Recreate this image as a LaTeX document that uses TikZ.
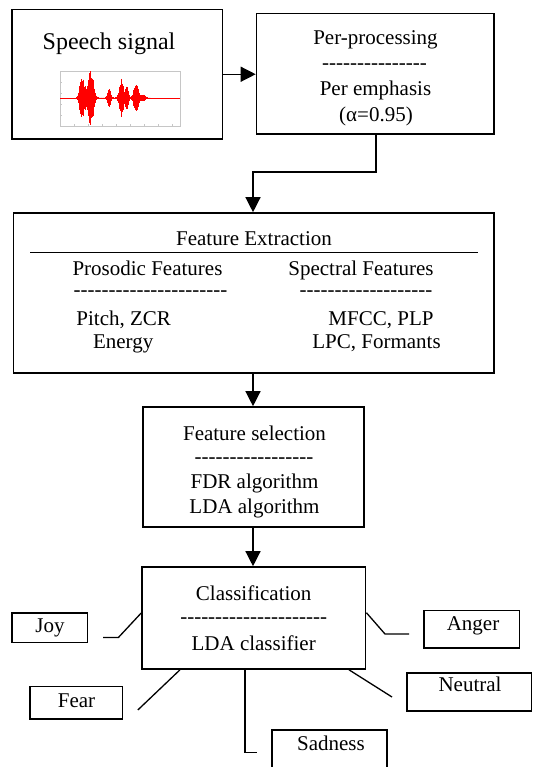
\documentclass[tikz,border=0pt]{standalone}
\usepackage{fontspec}
\newfontfamily\tnr{Liberation Serif}
\usetikzlibrary{arrows.meta}
\newcommand\hyrow[1]{\foreach \i in {1,...,#1}{\mbox{-}}}
\begin{document}
\begin{tikzpicture}[x=1pt,y=-1pt,
  box/.style={draw,line width=1.6pt,inner sep=0pt},
  txt/.style={anchor=base,inner sep=0pt,font=\tnr\fontsize{21}{25}\selectfont},
  arr/.style={line width=1.3pt,-{Triangle[length=15pt,width=15pt]}},
  con/.style={line width=1.3pt}]
\useasboundingbox (0,0) rectangle (533,767);
\clip (0,0) rectangle (533,767);

% boxes
\node[box,minimum width=210.5pt,minimum height=129.5pt] (speech) at (117.25,74.25) {};
\node[box,minimum width=237.5pt,minimum height=120.4pt] (per) at (375.25,73.8) {};
\node[box,minimum width=480.4pt,minimum height=160pt] (feat) at (253.8,293) {};
\node[box,minimum width=221.3pt,minimum height=120pt] (sel) at (253.35,467) {};
\node[box,minimum width=223.6pt,minimum height=102pt] (cls) at (253.8,618) {};
\node[box,minimum width=75.4pt,minimum height=29.9pt] (joy) at (49.7,627.65) {};
\node[box,minimum width=95.5pt,minimum height=37.5pt] (anger) at (471.75,629.25) {};
\node[box,minimum width=92.4pt,minimum height=32.5pt] (fear) at (76.2,702.75) {};
\node[box,minimum width=124.5pt,minimum height=38pt] (neutral) at (469.25,692) {};
\node[box,minimum width=115pt,minimum height=60pt] (sadness) at (329.2,760) {};

% speech signal
\node[txt,font=\tnr\fontsize{24}{28}\selectfont] (tspeech) at (109,50) {Speech signal};
\draw[gray!45,line width=0.4pt] (60,71) rectangle (180,126);
\foreach \t in {60,74,88,102,116,130,144,158,172}{\draw[gray!45,line width=0.3pt] (\t,126) -- (\t,124);}
\foreach \t in {71,82,93,104,115,126}{\draw[gray!45,line width=0.3pt] (60,\t) -- (62,\t);}
\draw[red,line width=0.5pt] (60,98) -- (180,98);
\pgfmathsetseed{7}
\foreach \x in {76,76.4,...,150}{
  \pgfmathsetmacro\amp{(24*exp(-min(((\x-82)/3)^2,9))+27*exp(-min(((\x-90.5)/3.5)^2,9))
    +9*exp(-min(((\x-109)/2)^2,9))+19*exp(-min(((\x-121)/2.5)^2,9))
    +13*exp(-min(((\x-126.5)/2)^2,9))+15*exp(-min(((\x-136)/3)^2,9))
    +3*exp(-min(((\x-143)/2.5)^2,9)))*(0.65+0.35*rnd)+0.4}
  \draw[red,line width=0.6pt] (\x,98-\amp) -- (\x,98+\amp);
}

% pre-processing
\node[txt] (tper1) at (375.5,45) {Per-processing};
\node[txt] (tper2) at (374.5,69.3) {\hyrow{15}};
\node[txt] (tper3) at (375.5,96) {Per emphasis};
\node[txt] (tper4) at (376,122) {(α=0.95)};

% feature extraction
\node[txt] (tfe) at (254,245) {Feature Extraction};
\draw[line width=1.6pt] (30,252.5) coordinate (l1) -- (478,252.5) coordinate (l2);
\node[txt] (tpro) at (147.5,275.5) {Prosodic Features};
\node[txt] (tprod) at (150.5,296.7) {\hyrow{22}};
\node[txt] (tpitch) at (123.7,325) {Pitch, ZCR};
\node[txt] (tenergy) at (123.2,348.6) {Energy};
\node[txt] (tspe) at (361,275.5) {Spectral Features};
\node[txt] (tsped) at (366,296.7) {\hyrow{19}};
\node[txt] (tmfcc) at (381,325) {MFCC, PLP};
\node[txt] (tlpc) at (376.5,348.6) {LPC, Formants};

% feature selection
\node[txt] (tsel1) at (254.5,440) {Feature selection};
\node[txt] (tsel2) at (254,463.7) {\hyrow{17}};
\node[txt] (tsel3) at (254.5,488) {FDR algorithm};
\node[txt] (tsel4) at (254.5,513) {LDA algorithm};

% classification
\node[txt] (tcls1) at (253.7,600) {Classification};
\node[txt] (tcls2) at (253.7,623) {\hyrow{21}};
\node[txt] (tcls3) at (253.7,650) {LDA classifier};

% emotions
\node[txt] (tjoy) at (50,632) {Joy};
\node[txt] (tanger) at (473,630.5) {Anger};
\node[txt] (tfear) at (76.5,707) {Fear};
\node[txt] (tneutral) at (470,691.5) {Neutral};
\node[txt] (tsad) at (331,750) {Sadness};

% arrows
\draw[arr] (speech.east) -- (speech.east -| per.west);
\draw[arr] (per.south -| 376,0) -- (376,172) -| (feat.north -| 253,0);
\draw[arr] (feat.south -| 253,0) -- (sel.north -| 253,0);
\draw[arr] (sel.south -| 253,0) -- (cls.north -| 253,0);

% emotion connectors
\coordinate (joyend) at (103,637.5);
\coordinate (angerend) at (409,634);
\coordinate (fearend) at (137.8,710);
\coordinate (neutralend) at (392,697);
\coordinate (sadend) at (256.7,752.3);
\draw[con] (joyend) -- (118.4,637.5) -- (cls.west |- 0,613);
\draw[con] (cls.east |- 0,612.7) -- (385,634) -- (angerend);
\draw[con] (cls.south -| 180,0) -- (fearend);
\draw[con] (cls.south -| 349,0) -- (neutralend);
\draw[con] (cls.south -| 245,0) -- (245,752.3) -- (sadend);
\end{tikzpicture}
\end{document}
